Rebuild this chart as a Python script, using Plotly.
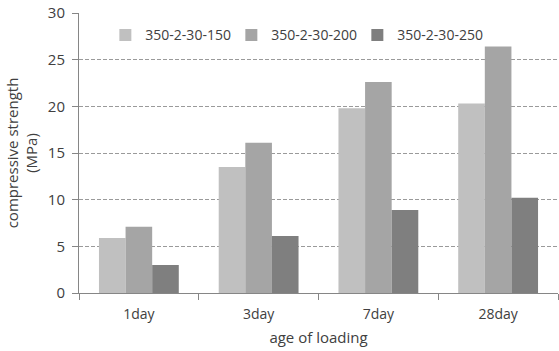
import plotly.graph_objects as go

# Compressive strength by age of loading for three mix designs
ages = ["1day", "3day", "7day", "28day"]
s150 = [5.9, 13.5, 19.8, 20.3]
s200 = [7.1, 16.1, 22.6, 26.4]
s250 = [3.0, 6.1, 8.9, 10.2]
series_names = ["350-2-30-150", "350-2-30-200", "350-2-30-250"]
series_colors = ["#c0c0c0", "#a5a5a5", "#7f7f7f"]
y_ticks = [0, 5, 10, 15, 20, 25, 30]

font_family = "Open Sans, Liberation Sans, sans-serif"
text_color = "#404040"

fig = go.Figure()
for name, vals, col in zip(series_names, [s150, s200, s250], series_colors):
    fig.add_trace(go.Bar(x=ages, y=vals, name=name, marker=dict(color=col, line=dict(width=0))))

fig.update_layout(
    width=559, height=351,
    margin=dict(l=79, r=1, t=13, b=58),
    paper_bgcolor="white", plot_bgcolor="white",
    barmode="group", bargap=1/3, bargroupgap=0,
    font=dict(family=font_family, size=12, color=text_color),
    showlegend=True,
    legend=dict(
        orientation="h", x=0.055, y=0.92, xanchor="left", yanchor="middle",
        bgcolor="rgba(0,0,0,0)", font=dict(size=14, color=text_color),
        entrywidth=81, itemwidth=30, traceorder="normal",
    ),
)

fig.update_xaxes(
    showline=True, linecolor="#868686", linewidth=1,
    ticks="outside", tickson="boundaries", ticklen=6, tickcolor="#868686",
    tickfont=dict(size=14), ticklabelstandoff=8,
    title=dict(text="age of loading", font=dict(size=15), standoff=10),
    showgrid=False,
)
fig.update_yaxes(
    range=[0, 30], tickvals=y_ticks,
    showline=True, linecolor="#868686", linewidth=1,
    ticks="outside", ticklen=6, tickcolor="#868686",
    tickfont=dict(size=15), ticklabelstandoff=4,
    showgrid=True, gridcolor="#9a9a9a", griddash="4px,2px", gridwidth=1,
    zeroline=False,
    title=dict(text="compressive strength<br>(MPa)", font=dict(size=15), standoff=6),
)

fig.write_html("out.html")
